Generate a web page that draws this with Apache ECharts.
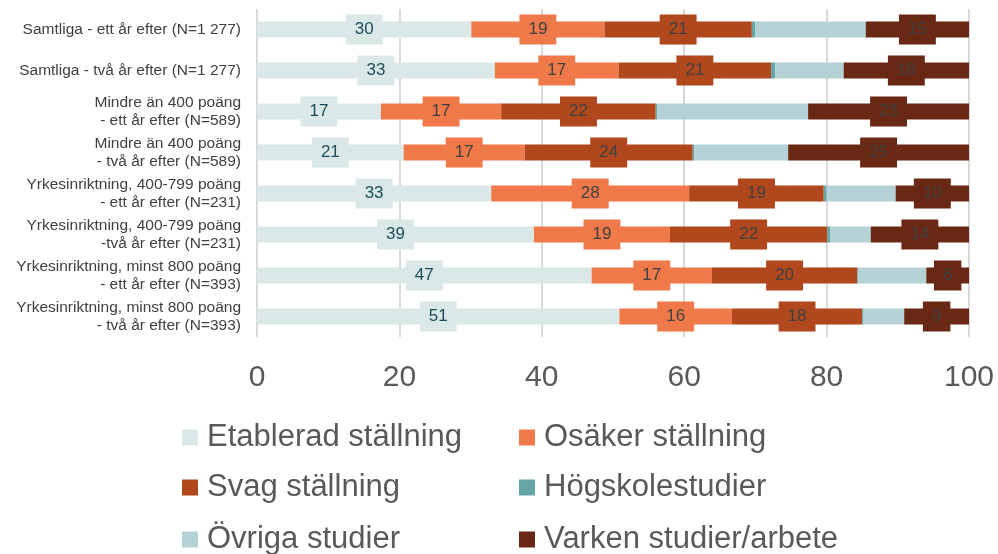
<!DOCTYPE html>
<html>
<head>
<meta charset="utf-8">
<script src="https://cdn.jsdelivr.net/npm/echarts@6/dist/echarts.min.js"></script>
<style>
  html, body { margin: 0; padding: 0; background: #fff; }
  #chart { width: 998px; height: 554px; }
</style>
</head>
<body>
<div id="chart"></div>
<script>
const categories = [
  'Samtliga - ett år efter (N=1 277)',
  'Samtliga - två år efter (N=1 277)',
  'Mindre än 400 poäng\n- ett år efter (N=589)',
  'Mindre än 400 poäng\n- två år efter (N=589)',
  'Yrkesinriktning, 400-799 poäng\n- ett år efter (N=231)',
  'Yrkesinriktning, 400-799 poäng\n-två år efter (N=231)',
  'Yrkesinriktning, minst 800 poäng\n- ett år efter (N=393)',
  'Yrkesinriktning, minst 800 poäng\n- två år efter (N=393)'
]

const etablerad = [30.1, 33.4, 17.4, 20.6, 32.9, 38.9, 47.0, 50.9]
const osaker = [18.7, 17.4, 16.9, 17.0, 27.8, 19.1, 16.9, 15.8]
const svag = [20.7, 21.4, 21.7, 23.6, 18.9, 22.1, 20.4, 18.3]
const hogskole = [0.5, 0.6, 0.2, 0.2, 0.4, 0.4, 0.1, 0.2]
const ovriga = [15.5, 9.6, 21.2, 13.2, 9.7, 5.7, 9.6, 5.7]
const varken = [14.6, 17.6, 22.6, 25.4, 10.3, 13.8, 6.0, 9.1]

const xTicks = [0, 20, 40, 60, 80, 100]

const font = 'Liberation Sans, Arial, sans-serif'

const colors = {
  'Etablerad ställning': '#dae9e8',
  'Osäker ställning': '#f0794a',
  'Svag ställning': '#b0471d',
  'Högskolestudier': '#66a5a5',
  'Övriga studier': '#b4d1d6',
  'Varken studier/arbete': '#692814'
}

// legend placed as two columns of three rows
const legendLayout = [
  ['Etablerad ställning', 182, 422],
  ['Osäker ställning', 519, 422],
  ['Svag ställning', 182, 472],
  ['Högskolestudier', 519, 472],
  ['Övriga studier', 182, 524],
  ['Varken studier/arbete', 519, 524]
]

const makeLabel = (bg, textColor) => ({
  show: true,
  position: 'inside',
  formatter: p => Math.round(p.value),
  fontFamily: font,
  fontSize: 17,
  lineHeight: 18,
  color: textColor,
  backgroundColor: bg,
  padding: [6, 9]
})

const makeSeries = (name, data, label) => ({
  name: name,
  type: 'bar',
  stack: 'total',
  barWidth: 16,
  data: data,
  itemStyle: { color: colors[name] },
  label: label ? makeLabel(colors[name], label) : { show: false }
})

const chart = echarts.init(document.getElementById('chart'))

const option = {
  animation: false,
  grid: {
    left: 257,
    right: 29,
    top: 9,
    bottom: 217,
    containLabel: false
  },
  legend: legendLayout.map(([name, left, top]) => ({
    left: left,
    top: top,
    padding: 0,
    itemWidth: 16,
    itemHeight: 16,
    icon: 'rect',
    data: [name],
    textStyle: { fontFamily: font, fontSize: 31, color: '#595959', lineHeight: 30, padding: [0, 0, 0, 4] }
  })),
  xAxis: {
    type: 'value',
    min: xTicks[0],
    max: xTicks[xTicks.length - 1],
    interval: 20,
    axisLine: { show: false },
    axisTick: { show: false },
    axisLabel: {
      fontFamily: font,
      fontSize: 30,
      color: '#595959',
      margin: 26
    },
    splitLine: {
      lineStyle: { color: '#d9d9d9', width: 2 }
    }
  },
  yAxis: {
    type: 'category',
    inverse: true,
    data: categories,
    axisLine: { show: false },
    axisTick: { show: false },
    axisLabel: {
      fontFamily: font,
      fontSize: 15.5,
      lineHeight: 18,
      color: '#404040',
      align: 'right',
      margin: 16
    }
  },
  series: [
    makeSeries('Etablerad ställning', etablerad, '#1b4c5a'),
    makeSeries('Osäker ställning', osaker, '#404040'),
    makeSeries('Svag ställning', svag, '#404040'),
    makeSeries('Högskolestudier', hogskole, null),
    makeSeries('Övriga studier', ovriga, null),
    makeSeries('Varken studier/arbete', varken, '#404040')
  ]
}

chart.setOption(option)
</script>
</body>
</html>
